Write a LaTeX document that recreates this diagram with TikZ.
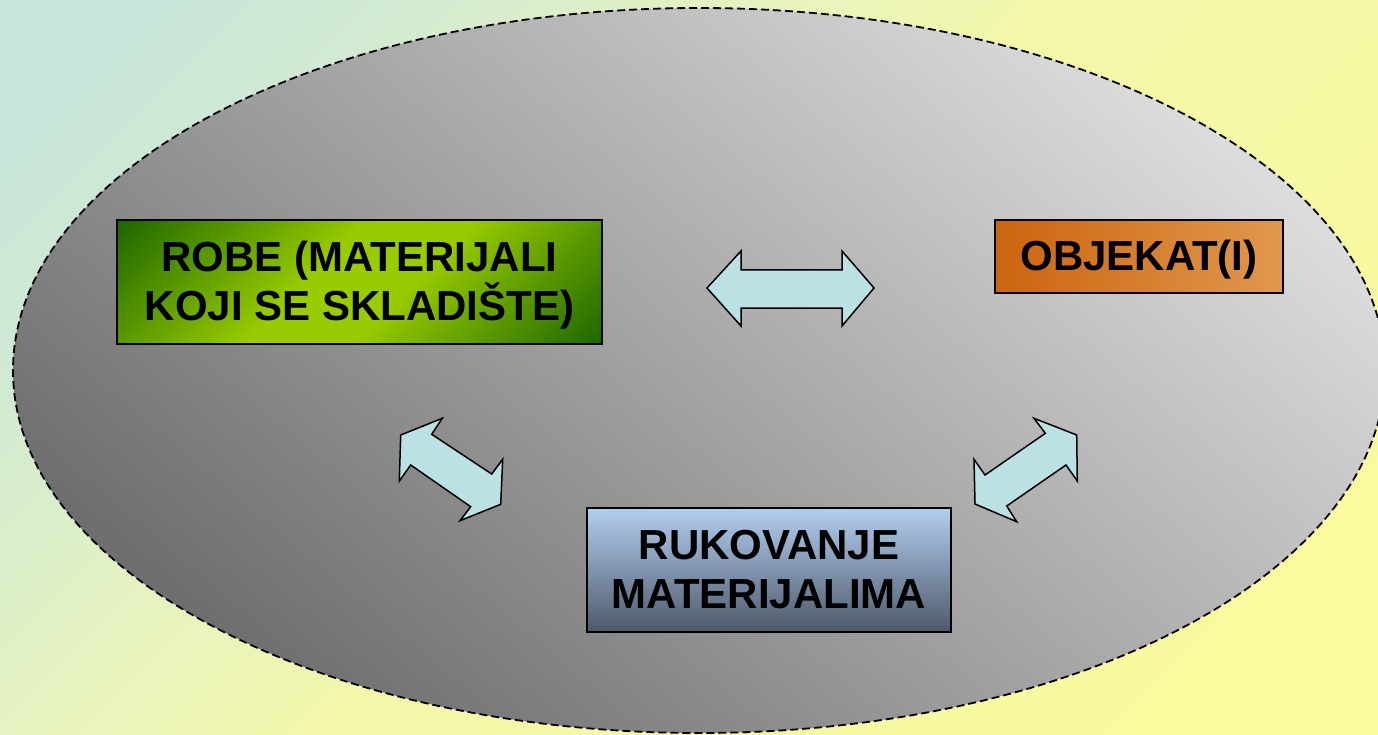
\documentclass[tikz,border=0pt]{standalone}
\usepackage{fontspec}
\setmainfont{Liberation Sans}
\definecolor{bgteal}{HTML}{C6E5DC}
\definecolor{bgc1}{HTML}{D2EAD2}
\definecolor{bgc2}{HTML}{DCEFCA}
\definecolor{bgc3}{HTML}{EAF4BC}
\definecolor{bgc4}{HTML}{F3F7AA}
\definecolor{bgyel}{HTML}{FAFB9C}
\definecolor{ellight}{HTML}{DCDCDC}
\definecolor{eldark}{HTML}{6E6E6E}
\definecolor{gdark}{HTML}{1B6400}
\definecolor{gbright}{HTML}{99CC00}
\definecolor{odark}{HTML}{CC6410}
\definecolor{olight}{HTML}{E0984E}
\definecolor{btop}{HTML}{B3CEF0}
\definecolor{bbot}{HTML}{4D596A}
\definecolor{arrfill}{HTML}{BCE1E4}
\pgfdeclareverticalshading{greenshade}{100bp}{color(0bp)=(gdark); color(14bp)=(gdark);
  color(44bp)=(gbright); color(56bp)=(gbright); color(86bp)=(gdark); color(100bp)=(gdark)}
\pgfdeclareverticalshading{bgshade}{100bp}{color(0bp)=(bgyel); color(20bp)=(bgyel);
  color(50bp)=(bgc4); color(58bp)=(bgc3); color(66bp)=(bgc2); color(72bp)=(bgc1);
  color(82bp)=(bgteal); color(100bp)=(bgteal)}
\tikzset{
  box/.style={draw=black, line width=1.5pt, inner sep=0pt, align=center,
    font=\fontsize{42}{49}\selectfont\bfseries, text=black},
  blockarrow/.style={draw=black, line width=1.5pt, fill=arrfill, line join=miter},
}
\begin{document}
\begin{tikzpicture}[x=1pt,y=-1pt]
\useasboundingbox (0,0) rectangle (1378,735);
\clip (0,0) rectangle (1378,735);
% background
\shade[shading=bgshade, shading angle=45] (0,0) rectangle (1378,735);
% ellipse
\shade[top color=ellight, bottom color=eldark, shading angle=-40]
  (699,370.5) ellipse [x radius=686, y radius=362.5];
\draw[black, line width=1.8pt, dash pattern=on 8pt off 4pt]
  (699,370.5) ellipse [x radius=686, y radius=362.5];
% boxes
\node[box, minimum width=485pt, minimum height=124pt,
  shading=greenshade, shading angle=45]
  (robe) at (359.5,282) {ROBE \smash{(}MATERIJALI\\KOJI SE SKLADIŠTE\smash{)}};
\node[box, minimum width=288pt, minimum height=73pt,
  left color=odark, right color=olight]
  (objekat) at (1139,256.5) {OBJEKAT\smash{(}I\smash{)}};
\node[box, minimum width=364pt, minimum height=124pt,
  top color=btop, bottom color=bbot]
  (rukovanje) at (769,570) {RUKOVANJE\\MATERIJALIMA};
% block arrows
\filldraw[blockarrow] (707,288) -- (741,251) -- (741,270) -- (842,270) -- (842,251)
  -- (874,288) -- (842,326) -- (842,308) -- (741,308) -- (741,326) -- cycle;
\filldraw[blockarrow] (442.3,418.3) -- (431.7,434.3) -- (491.7,474) -- (502.7,459.3)
  -- (500.7,504.3) -- (460,520.7) -- (470.7,506.7) -- (410.7,465) -- (399.3,481)
  -- (400.7,435) -- cycle;
\filldraw[blockarrow] (1034,418.3) -- (1076.7,435) -- (1077.3,481) -- (1066,465)
  -- (1006.7,506) -- (1016.7,521.7) -- (975,504) -- (974,459.3) -- (985,475)
  -- (1045.3,433.3) -- cycle;
\end{tikzpicture}
\end{document}
